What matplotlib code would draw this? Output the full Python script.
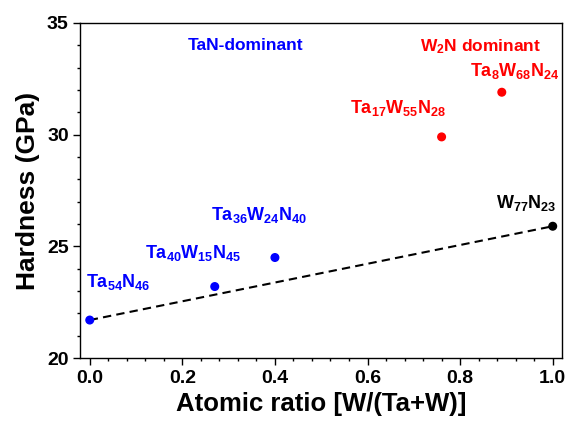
import matplotlib
matplotlib.use("Agg")
import matplotlib.pyplot as plt
from matplotlib.ticker import MultipleLocator

plt.rcParams["font.family"] = ["Liberation Sans", "DejaVu Sans"]
plt.rcParams["font.weight"] = "bold"
plt.rcParams["mathtext.fontset"] = "custom"
plt.rcParams["mathtext.rm"] = "Liberation Sans:bold"
plt.rcParams["mathtext.bf"] = "Liberation Sans:bold"
plt.rcParams["mathtext.default"] = "bf"

# W/(Ta+W) ratio vs hardness for each film
ratio = [0.0, 0.27, 0.40, 0.76, 0.89, 1.0]
hardness = [21.7, 23.2, 24.5, 29.9, 31.9, 25.9]
names = ["Ta$_{54}$N$_{46}$", "Ta$_{40}$W$_{15}$N$_{45}$", "Ta$_{36}$W$_{24}$N$_{40}$",
         "Ta$_{17}$W$_{55}$N$_{28}$", "Ta$_{8}$W$_{68}$N$_{24}$", "W$_{77}$N$_{23}$"]
colors = ["blue", "blue", "blue", "red", "red", "black"]
# label offsets (points) relative to each marker
offsets = [(20.5, 27.5), (-15.8, 24.5), (-11.5, 30.7), (-31, 20.7), (9.6, 15.6), (-19.2, 17)]

fig = plt.figure(figsize=(5.68, 4.21), dpi=100)
ax = fig.add_axes([0.1417, 0.1496, 0.8477, 0.7958])

# rule-of-mixtures line between the two binary nitrides
ax.plot([ratio[0], ratio[-1]], [hardness[0], hardness[-1]], color="black",
        lw=1.5, dashes=(4, 2.5), zorder=1)
ax.scatter(ratio, hardness, c=colors, s=30, zorder=2)

for x, y, n, c, off in zip(ratio, hardness, names, colors, offsets):
    ax.annotate(n, (x, y), xytext=off, textcoords="offset points",
                ha="center", va="center", color=c, fontsize=13, fontweight="bold")

ax.text(0.342, 0.934, "TaN-dominant", transform=ax.transAxes, color="blue",
        ha="center", va="center", fontsize=12.5, fontweight="bold")
ax.text(0.830, 0.928, "W$_2$N dominant", transform=ax.transAxes, color="red",
        ha="center", va="center", fontsize=12.5, fontweight="bold")

ax.set_xlim(-0.02, 1.02)
ax.set_ylim(20, 35)
ax.xaxis.set_major_locator(MultipleLocator(0.2))
ax.xaxis.set_minor_locator(MultipleLocator(0.04))
ax.yaxis.set_major_locator(MultipleLocator(5))
ax.yaxis.set_minor_locator(MultipleLocator(1))
ax.xaxis.set_major_formatter(plt.FormatStrFormatter("%.1f"))
ax.tick_params(which="both", direction="out", top=False, right=False, width=1.0,
               labelsize=14)
ax.tick_params(which="major", length=5)
ax.tick_params(which="minor", length=2.5)
for s in ax.spines.values():
    s.set_linewidth(1.0)

ax.set_xlabel("Atomic ratio [W/(Ta+W)]", fontsize=18.5, fontweight="bold", labelpad=4)
ax.set_ylabel("Hardness (GPa)", fontsize=19, fontweight="bold", labelpad=5)

fig.savefig("out.png", dpi=100)
